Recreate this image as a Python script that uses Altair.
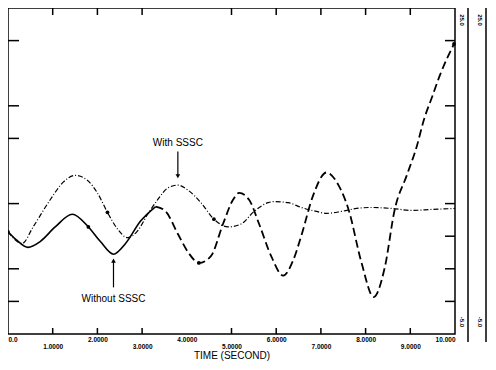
import altair as alt
import pandas as pd

# ---- data (time in s, response in arbitrary units) ----
time_with = [0.000, 0.315, 0.562, 0.944, 1.236, 1.506, 1.775, 2.000, 2.225, 2.449,
             2.674, 2.899, 3.124, 3.348, 3.573, 3.798, 4.022, 4.315, 4.607, 4.921,
             5.213, 5.506, 5.820, 5.955, 6.270, 6.562, 6.899, 7.124, 7.461, 7.798,
             8.135, 8.584, 9.034, 9.483, 10.000]
value_with = [3.134, 2.776, 3.284, 4.119, 4.657, 4.866, 4.716, 4.328, 3.731, 3.224,
              2.955, 3.164, 3.672, 4.119, 4.478, 4.567, 4.418, 4.030, 3.522, 3.284,
              3.373, 3.761, 4.030, 4.060, 4.030, 3.881, 3.761, 3.701, 3.761, 3.851,
              3.881, 3.851, 3.791, 3.821, 3.851]

time_without = [0.000, 0.180, 0.449, 0.719, 1.056, 1.438, 1.798, 2.067, 2.360, 2.629,
                2.966, 3.303, 3.528, 3.798, 4.045, 4.270, 4.539, 4.809, 5.034, 5.169,
                5.393, 5.618, 5.888, 6.157, 6.382, 6.562, 6.831, 7.124, 7.393, 7.618,
                7.910, 8.180, 8.427, 8.652, 8.921, 9.146, 9.303, 9.483, 9.663, 9.820,
                9.978]
value_without = [3.134, 2.896, 2.657, 2.836, 3.284, 3.672, 3.284, 2.836, 2.448, 2.776,
                 3.463, 3.910, 3.761, 3.075, 2.478, 2.179, 2.388, 3.373, 4.119, 4.328,
                 4.119, 3.373, 2.388, 1.791, 2.269, 3.015, 4.269, 4.955, 4.567, 3.821,
                 2.179, 1.134, 2.030, 3.821, 4.866, 5.761, 6.567, 7.254, 7.940, 8.448,
                 8.896]

marker_times_with = [2.225, 4.607]
marker_values_with = [3.731, 3.522]
marker_times_without = [0.000, 1.798, 4.270, 9.978]
marker_values_without = [3.134, 3.284, 2.179, 8.896]

x_ticks = [0, 1, 2, 3, 4, 5, 6, 7, 8, 9, 10]
x_tick_labels = ["0.0", "1.0000", "2.0000", "3.0000", "4.0000", "5.0000",
                 "6.0000", "7.0000", "8.0000", "9.0000", "10.000"]
inner_x_ticks = [1, 2, 3, 5, 6, 7, 8, 9]
left_y_ticks = [1, 2, 4, 6, 7, 9]
right_y_ticks = [1, 2, 3, 4, 6, 7, 9]

ann_text = ["With SSSC", "Without SSSC"]
ann_t = [3.80, 2.36]
ann_v = [5.85, 1.07]
arrow_t = [3.80, 2.36]
arrow_from = [5.60, 1.43]
arrow_to = [4.84, 2.25]
arrow_shape = ["triangle-down", "triangle-up"]

side_text = ["25.0", "-5.0", "25.0", "-5.0"]

W, H = 447, 326

df_with = pd.DataFrame({"t": time_with, "v": value_with})
df_without = pd.DataFrame({"t": time_without, "v": value_without})
df_mk = pd.DataFrame({"t": marker_times_with + marker_times_without,
                      "v": marker_values_with + marker_values_without})

xs = alt.Scale(domain=[0, 10], nice=False, zero=False)
ys = alt.Scale(domain=[0, 10], nice=False, zero=False)

label_expr = "[" + ",".join("'" + s + "'" for s in x_tick_labels) + "][datum.value]"

x_axis = alt.Axis(values=x_ticks, labelExpr=label_expr, ticks=False, domain=False,
                  grid=False, labelFont="Liberation Sans", labelFontSize=6.5,
                  labelFontWeight="bold", labelColor="black", labelOverlap=False,
                  labelFlush=True,
                  labelPadding={"condition": {"test": "datum.value % 2 == 1", "value": 9},
                                "value": 2},
                  title="TIME (SECOND)", titleFont="Liberation Sans", titleFontSize=10,
                  titleFontWeight="normal", titleColor="black", titlePadding=1)

X = alt.X("t:Q", scale=xs, axis=x_axis)
Y = alt.Y("v:Q", scale=ys, axis=None)

line_with = alt.Chart(df_with).mark_line(
    color="black", strokeWidth=1.2, strokeDash=[5, 2, 1, 2], interpolate="monotone"
).encode(x=X, y=Y)

line_without_dash = alt.Chart(df_without).transform_filter("datum.t >= 3.2").mark_line(
    color="black", strokeWidth=1.8, strokeDash=[8, 4], interpolate="monotone"
).encode(x=X, y=Y)

line_without_solid = alt.Chart(df_without).transform_filter("datum.t <= 3.35").mark_line(
    color="black", strokeWidth=1.6, interpolate="monotone"
).encode(x=X, y=Y)

markers = alt.Chart(df_mk).mark_point(
    filled=True, color="black", size=14, opacity=1
).encode(x=X, y=Y)

df_xt = pd.DataFrame({"t": inner_x_ticks})
bot_ticks = alt.Chart(df_xt).mark_rule(color="black", strokeWidth=1.5).encode(
    x=X, y=alt.value(H), y2=alt.value(H - 6))
top_ticks = alt.Chart(df_xt).mark_rule(color="black", strokeWidth=1.5).encode(
    x=X, y=alt.value(0), y2=alt.value(7))

left_ticks = alt.Chart(pd.DataFrame({"v": left_y_ticks})).mark_rule(
    color="black", strokeWidth=1.5).encode(y=Y, x=alt.value(0), x2=alt.value(11))
right_ticks = alt.Chart(pd.DataFrame({"v": right_y_ticks})).mark_rule(
    color="black", strokeWidth=1.5).encode(y=Y, x=alt.value(W - 10), x2=alt.value(W))

df_ann = pd.DataFrame({"t": ann_t, "v": ann_v, "text": ann_text})
ann = alt.Chart(df_ann).mark_text(
    font="Liberation Sans", fontSize=10, color="black"
).encode(x=X, y=Y, text="text:N")

df_arrow = pd.DataFrame({"t": arrow_t, "v": arrow_from, "v2": arrow_to,
                         "shape": arrow_shape})
arrows = alt.Chart(df_arrow).mark_rule(color="black", strokeWidth=1.2).encode(
    x=X, y=Y, y2="v2:Q")
heads = alt.Chart(df_arrow).mark_point(filled=True, color="black", size=22, opacity=1).encode(
    x=X, y=alt.Y("v2:Q", scale=ys, axis=None),
    shape=alt.Shape("shape:N", scale=None))

side_lines = alt.Chart(pd.DataFrame({"k": [0, 1]})).mark_rule(
    color="black", strokeWidth=1.5).encode(
    x=alt.X("k:Q", scale=alt.Scale(domain=[0, 1], range=[W + 13, W + 31]), axis=None),
    y=alt.value(0), y2=alt.value(H + 8))

df_side = pd.DataFrame({"k": [0, 0, 1, 1], "p": [0, 1, 0, 1], "text": side_text})
side_txt = alt.Chart(df_side).mark_text(
    font="Liberation Sans", fontSize=6, fontWeight="bold", angle=90, color="black"
).encode(
    x=alt.X("k:Q", scale=alt.Scale(domain=[0, 1], range=[W + 7, W + 25]), axis=None),
    y=alt.Y("p:Q", scale=alt.Scale(domain=[0, 1], range=[12, H - 12]), axis=None),
    text="text:N")

chart = alt.layer(
    line_with, line_without_dash, line_without_solid, markers,
    bot_ticks, top_ticks, left_ticks, right_ticks,
    ann, arrows, heads, side_lines, side_txt
).resolve_scale(x="independent", y="independent").properties(
    width=W, height=H,
    autosize=alt.AutoSizeParams(type="none"),
    padding={"left": 0, "top": 0, "right": 33, "bottom": 28},
    background="white"
).configure_view(stroke="black", strokeWidth=1.5)

chart.save("out.html", embed_options={"renderer": "svg", "actions": False})
